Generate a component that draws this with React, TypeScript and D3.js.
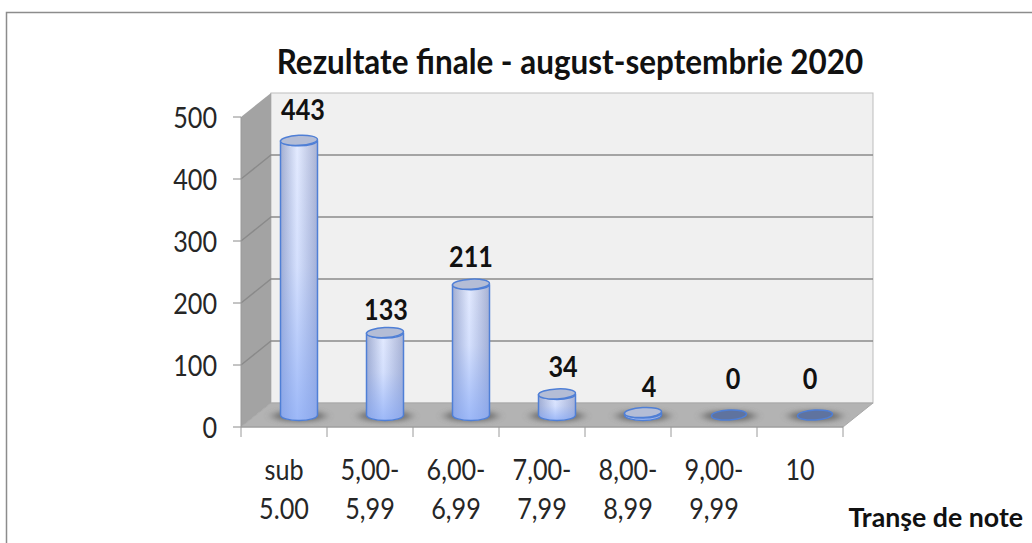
import React from "react";
import * as d3 from "d3";

const categories = [["sub", "5.00"], ["5,00-", "5,99"], ["6,00-", "6,99"], ["7,00-", "7,99"], ["8,00-", "8,99"], ["9,00-", "9,99"], ["10"]];
const values = [443, 133, 211, 34, 4, 0, 0];
const yTicks = [0, 100, 200, 300, 400, 500];
const title = "Rezultate finale - august-septembrie 2020";
const axisTitle = "Tranşe de note";
// hand-placed data labels in the original: offsets from the default label spot
const labelNudgeX = [4, 1, 0, 6, 6, 4, -5];
const labelNudgeY = [-2, 5, 1, 1, 2, -8, -8];

const W = 1032, H = 543;
const x0 = 241, x1 = 843, yZero = 427, yTop = 117, dx = 30, dy = -24;
const x = d3.scaleBand<number>().domain(values.map((_, i) => i)).range([x0, x1]);
const y = d3.scaleLinear().domain([0, 500]).range([yZero, yTop]);
const font = "Lato, 'Open Sans', sans-serif";
const ink = "#262626";
const bw = 18.5, ry = 5.5;
const baseLift = 12;

function T({ x: px, y: py, sx = 0.9, anchor = "middle", size = 28, bold = false, fill = ink, children }: any) {
  return (
    <text transform={`translate(${px},${py}) scale(${sx},1)`} textAnchor={anchor} fontSize={size} fontWeight={bold ? 700 : 400} fill={fill}>
      {children}
    </text>
  );
}

export default function App() {
  const back = (v: number) => y(v) + dy;
  const floor = `M${x0},${yZero}L${x1},${yZero}L${x1 + dx},${yZero + dy}L${x0 + dx},${yZero + dy}Z`;
  const wall = `M${x0},${yZero}L${x0 + dx},${yZero + dy}L${x0 + dx},${back(500)}L${x0},${y(500)}Z`;
  return (
    <svg width={W} height={H} style={{ position: "absolute", left: 0, top: 0, background: "#fff" }} fontFamily={font}>
      <defs>
        <linearGradient id="cyl" x1="0" x2="1" y1="0" y2="0">
          <stop offset="0" stopColor="#a3aed0" />
          <stop offset="0.45" stopColor="#e4ebff" />
          <stop offset="1" stopColor="#a9b2d2" />
        </linearGradient>
        <linearGradient id="fade" x1="0" x2="0" y1="0" y2="1">
          <stop offset="0" stopColor="#7fa3f5" stopOpacity="0" />
          <stop offset="0.45" stopColor="#7fa3f5" stopOpacity="0.15" />
          <stop offset="1" stopColor="#7fa3f5" stopOpacity="0.7" />
        </linearGradient>
        <filter id="blur" x="-50%" y="-100%" width="200%" height="300%"><feGaussianBlur stdDeviation="5 2.5" /></filter>
      </defs>
      <path d={`M6.5,${H}V12.5H${W}`} fill="none" stroke="#8c8c8c" strokeWidth={1.5} />
      <rect x={x0 + dx} y={back(500)} width={x1 - x0} height={yZero - y(500)} fill="#f0f0f0" stroke="#bdbdbd" strokeWidth={1} />
      <path d={wall} fill="#a3a3a3" />
      <path d={floor} fill="#b3b3b3" stroke="#a8a8a8" />
      {yTicks.map((t) => (
        <g key={t}>
          {t > 0 && t < 500 && <path d={`M${x0},${y(t)}L${x0 + dx},${back(t)}H${x1 + dx}`} fill="none" stroke="#8a8a8a" strokeWidth={1.4} />}
          <line x1={x0 - 8} x2={x0} y1={y(t)} y2={y(t)} stroke="#8a8a8a" />
          <T x={x0 - 24} y={y(t) + 11} anchor="end">{t}</T>
        </g>
      ))}
      <line x1={x0} x2={x0} y1={y(500)} y2={yZero} stroke="#9a9a9a" />
      <line x1={x0} x2={x1} y1={yZero} y2={yZero} stroke="#9a9a9a" />
      {d3.range(values.length + 1).map((i) => {
        const px = i < values.length ? x(i)! : x1;
        return <line key={i} x1={px} x2={px} y1={yZero} y2={yZero + 10} stroke="#9a9a9a" />;
      })}
      {values.map((v, i) => {
        const cx = x(i)! + x.bandwidth() / 2 + 15;
        const base = yZero - baseLift;
        const h = yZero - y(v);
        const top = base - h;
        const side = `M${cx - bw},${top}V${base}A${bw},${ry} 0 0 0 ${cx + bw},${base}V${top}A${bw},${ry} 0 0 1 ${cx - bw},${top}Z`;
        return (
          <g key={i}>
            <ellipse cx={cx} cy={base + 1} rx={bw + 8} ry={ry} fill="#555" opacity={0.7} filter="url(#blur)" />
            {v > 0 && (
              <>
                <path d={side} fill="url(#cyl)" />
                <path d={side} fill="url(#fade)" stroke="#4f7fd6" strokeWidth={1.5} />
              </>
            )}
            <ellipse cx={cx} cy={top} rx={v > 0 ? bw : bw - 1} ry={ry - 0.5} fill={v > 0 ? "#b4bdd6" : "#5f739f"} stroke="#4f7fd6" strokeWidth={1.5} transform={`rotate(-3 ${cx} ${top})`} />
            <T x={cx + labelNudgeX[i]} y={top - 18 + labelNudgeY[i]} bold fill="#111">{v}</T>
          </g>
        );
      })}
      {categories.map((lines, i) =>
        lines.map((s, j) => (
          <T key={`${i}-${j}`} x={x(i)! + x.bandwidth() / 2} y={480 + j * 39}>{s}</T>
        ))
      )}
      <T x={570} y={74} size={34} sx={0.925} bold fill="#111">{title}</T>
      <T x={1023} y={527} size={27} sx={0.99} anchor="end" bold fill="#111">{axisTitle}</T>
    </svg>
  );
}
